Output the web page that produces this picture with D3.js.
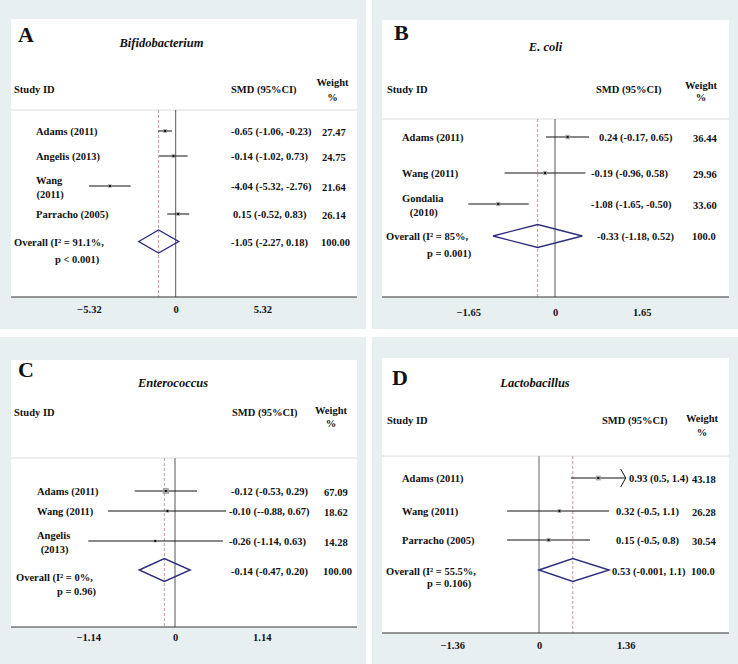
<!DOCTYPE html>
<html><head><meta charset="utf-8">
<script src="https://cdn.jsdelivr.net/npm/d3@7"></script>
<style>
html,body{margin:0;padding:0;background:#fff;}
text{font-family:"Liberation Serif","Times New Roman",serif;font-weight:bold;fill:#111;}
</style></head>
<body>
<svg id="chart" width="738" height="664"></svg>
<script>
// ---------------- DATA ----------------
const panelLetters = ["A", "B", "C", "D"];
const panelTitles = ["Bifidobacterium", "E. coli", "Enterococcus", "Lactobacillus"];
const tickMax = [5.32, 1.65, 1.14, 1.36];

const studiesA = [["Adams (2011)"], ["Angelis (2013)"], ["Wang", "(2011)"], ["Parracho (2005)"]];
const smdA = [-0.65, -0.14, -4.04, 0.15];
const lowA = [-1.06, -1.02, -5.32, -0.52];
const highA = [-0.23, 0.73, -2.76, 0.83];
const weightA = ["27.47", "24.75", "21.64", "26.14"];
const ciTextA = ["-0.65 (-1.06, -0.23)", "-0.14 (-1.02, 0.73)", "-4.04 (-5.32, -2.76)", "0.15 (-0.52, 0.83)"];

const studiesB = [["Adams (2011)"], ["Wang (2011)"], ["Gondalia", "(2010)"]];
const smdB = [0.24, -0.19, -1.08];
const lowB = [-0.17, -0.96, -1.65];
const highB = [0.65, 0.58, -0.50];
const weightB = ["36.44", "29.96", "33.60"];
const ciTextB = ["0.24 (-0.17, 0.65)", "-0.19 (-0.96, 0.58)", "-1.08 (-1.65, -0.50)"];

const studiesC = [["Adams (2011)"], ["Wang (2011)"], ["Angelis", "(2013)"]];
const smdC = [-0.12, -0.10, -0.26];
const lowC = [-0.53, -0.88, -1.14];
const highC = [0.29, 0.67, 0.63];
const weightC = ["67.09", "18.62", "14.28"];
const ciTextC = ["-0.12 (-0.53, 0.29)", "-0.10 (--0.88, 0.67)", "-0.26 (-1.14, 0.63)"];

const studiesD = [["Adams (2011)"], ["Wang (2011)"], ["Parracho (2005)"]];
const smdD = [0.93, 0.32, 0.15];
const lowD = [0.5, -0.5, -0.5];
const highD = [1.4, 1.1, 0.8];
const weightD = ["43.18", "26.28", "30.54"];
const ciTextD = ["0.93 (0.5, 1.4)", "0.32 (-0.5, 1.1)", "0.15 (-0.5, 0.8)"];

const overallSmd = [-1.05, -0.33, -0.14, 0.53];
const overallLow = [-2.27, -1.18, -0.47, -0.001];
const overallHigh = [0.18, 0.52, 0.20, 1.1];
const overallText = ["-1.05 (-2.27, 0.18)", "-0.33 (-1.18, 0.52)", "-0.14 (-0.47, 0.20)", "0.53 (-0.001, 1.1)"];
const overallWeight = ["100.00", "100.0", "100.00", "100.0"];
const overallLabel1 = ["Overall (I\u00B2 = 91.1%,", "Overall (I\u00B2 = 85%,", "Overall (I\u00B2 = 0%,", "Overall (I\u00B2 = 55.5%,"];
const overallLabel2 = ["p < 0.001)", "p = 0.001)", "p = 0.96)", "p = 0.106)"];

const panelData = [
  {studies: studiesA, smd: smdA, low: lowA, high: highA, weight: weightA, ci: ciTextA},
  {studies: studiesB, smd: smdB, low: lowB, high: highB, weight: weightB, ci: ciTextB},
  {studies: studiesC, smd: smdC, low: lowC, high: highC, weight: weightC, ci: ciTextC},
  {studies: studiesD, smd: smdD, low: lowD, high: highD, weight: weightD, ci: ciTextD}
];

// ---------------- LAYOUT ----------------
const layout = [
  {tile:[0,0,366,329], box:[11,19,357,297], sep:110, zero:175.7, letter:[18,42], title:[161.5,47],
   hdr:{study:[14,93], smd:[231,93], wt:[332.5,86,101]}, rows:[131,156,186,214], ovY:241.5, ovText:[246,263],
   nameX:36, ovX:14, ciX:[231,231,231,233], ovCiX:231, ovCiY:246, wtX:322, tickY:313,
   zeroColor:"#555", zeroW:1},
  {tile:[372,0,738,329], box:[382,20,729,297], sep:119, zero:555, letter:[394,40], title:[545.5,51],
   hdr:{study:[387,93], smd:[596,93], wt:[701,89,101]}, rows:[137,173,204], ovY:236, ovText:[240,257],
   nameX:402, ovX:386, ciX:[599,591,591], ovCiX:597, ovCiY:240, wtX:693, tickY:316,
   zeroColor:"#555", zeroW:1},
  {tile:[0,337,366,664], box:[11,360,357,627], sep:458, zero:175, letter:[18,377], title:[173,387],
   hdr:{study:[14,416], smd:[232,416], wt:[331,414,427]}, rows:[491,511,541], ovY:570, ovText:[581,595],
   nameX:37, ovX:16, ciX:[231,229,229], ovCiX:231, ovCiY:575, wtX:324, tickY:641,
   zeroColor:"#aaa", zeroW:2},
  {tile:[372,337,738,664], box:[382,358,729,633], sep:456, zero:539, letter:[392,385], title:[535,387],
   hdr:{study:[387,424], smd:[602,424], wt:[702,422,436]}, rows:[478,511,540], ovY:570, ovText:[575,587],
   nameX:402, ovX:386, ciX:[629,616,616], ovCiX:612, ovCiY:575, wtX:692, tickY:649,
   zeroColor:"#999", zeroW:1.5}
];

// ---------------- DRAW ----------------
const svg = d3.select("#chart");
svg.append("rect").attr("width",738).attr("height",664).attr("fill","#ffffff");

panelLetters.forEach((letter, p) => {
  const L = layout[p], D = panelData[p];
  const g = svg.append("g");
  const [tx0,ty0,tx1,ty1] = L.tile;
  g.append("rect").attr("x",tx0).attr("y",ty0).attr("width",tx1-tx0).attr("height",ty1-ty0).attr("fill","#e8eff1");
  const [bx0,by0,bx1,by1] = L.box;
  g.append("rect").attr("x",bx0).attr("y",by0).attr("width",bx1-bx0).attr("height",by1-by0).attr("fill","#ffffff");

  const T = tickMax[p];
  const x = d3.scaleLinear().domain([-T, T]).range([L.zero - 86.7, L.zero + 86.7]);

  // header
  g.append("text").attr("x",L.letter[0]).attr("y",L.letter[1]).attr("font-size",22).text(letter);
  g.append("text").attr("x",L.title[0]).attr("y",L.title[1]).attr("text-anchor","middle")
    .attr("font-size",12.5).attr("font-style","italic").text(panelTitles[p]);
  g.append("text").attr("x",L.hdr.study[0]).attr("y",L.hdr.study[1]).attr("font-size",10.5).text("Study ID");
  g.append("text").attr("x",L.hdr.smd[0]).attr("y",L.hdr.smd[1]).attr("font-size",10.5).text("SMD (95%CI)");
  g.append("text").attr("x",L.hdr.wt[0]).attr("y",L.hdr.wt[1]).attr("text-anchor","middle").attr("font-size",10.5).text("Weight");
  g.append("text").attr("x",L.hdr.wt[0]).attr("y",L.hdr.wt[2]).attr("text-anchor","middle").attr("font-size",10.5).text("%");

  // separator
  g.append("line").attr("x1",bx0).attr("x2",bx1).attr("y1",L.sep).attr("y2",L.sep)
    .attr("stroke","#dcdcdc").attr("stroke-width",1);

  // zero line and overall dashed line
  g.append("line").attr("x1",x(0)).attr("x2",x(0)).attr("y1",L.sep).attr("y2",by1)
    .attr("stroke",L.zeroColor).attr("stroke-width",L.zeroW);
  g.append("line").attr("x1",x(overallSmd[p])).attr("x2",x(overallSmd[p])).attr("y1",L.sep).attr("y2",by1)
    .attr("stroke","#c27f7f").attr("stroke-width",0.8).attr("stroke-dasharray","3,2");

  // axis line
  g.append("line").attr("x1",bx0).attr("x2",bx1).attr("y1",by1).attr("y2",by1)
    .attr("stroke","#333").attr("stroke-width",1);
  const axis = d3.axisBottom(x).tickValues([-T, 0, T]).tickSize(0)
    .tickFormat(v => v === 0 ? "0" : d3.format(".2f")(v));
  const ag = g.append("g").attr("transform",`translate(0,${L.tickY - 10})`).call(axis);
  ag.select(".domain").remove();
  ag.selectAll("text").attr("font-size",10.5).attr("fill","#111")
    .style("font-family","'Liberation Serif',serif").style("font-weight","bold");

  const xMax = x.range()[1];
  // studies
  D.studies.forEach((lines, i) => {
    const y = L.rows[i];
    const hi = Math.min(D.high[i], T);
    g.append("line").attr("x1",x(D.low[i])).attr("x2",x(hi)).attr("y1",y).attr("y2",y)
      .attr("stroke","#111").attr("stroke-width",1);
    if (D.high[i] > T) {
      g.append("path").attr("d",`M${xMax-5},${y-9}L${xMax},${y}L${xMax-5},${y+9}`)
        .attr("fill","none").attr("stroke","#111").attr("stroke-width",1);
    }
    const s = 0.75 * Math.sqrt(+D.weight[i]);
    g.append("rect").attr("x",x(D.smd[i]) - s/2).attr("y",y - s/2).attr("width",s).attr("height",s)
      .attr("fill","#9a9a9a").attr("opacity",0.8);
    g.append("rect").attr("x",x(D.smd[i]) - 1).attr("y",y - 1).attr("width",2).attr("height",2).attr("fill","#111");

    if (lines.length === 1) {
      g.append("text").attr("x",L.nameX).attr("y",y + 4).attr("font-size",10.5).text(lines[0]);
    } else {
      const t1 = g.append("text").attr("x",L.nameX).attr("y",y - 2).attr("font-size",10.5).text(lines[0]);
      const w = t1.node().getComputedTextLength();
      g.append("text").attr("x",L.nameX + w/2 + 1).attr("y",y + 12).attr("text-anchor","middle")
        .attr("font-size",10.5).text(lines[1]);
    }
    g.append("text").attr("x",L.ciX[i]).attr("y",y + 4).attr("font-size",10.5).text(D.ci[i]);
    g.append("text").attr("x",L.wtX).attr("y",y + 5).attr("font-size",10.5).text(D.weight[i]);
  });

  // overall diamond
  const cy = L.ovY, h = 11.5;
  g.append("path")
    .attr("d",`M${x(overallLow[p])},${cy}L${x(overallSmd[p])},${cy-h}L${x(overallHigh[p])},${cy}L${x(overallSmd[p])},${cy+h}Z`)
    .attr("fill","none").attr("stroke","#2e2e7e").attr("stroke-width",1.4);
  g.append("text").attr("x",L.ovX).attr("y",L.ovText[0]).attr("font-size",10.5).text(overallLabel1[p]);
  g.append("text").attr("x",L.ovX + 41).attr("y",L.ovText[1]).attr("font-size",10.5).text(overallLabel2[p]);
  g.append("text").attr("x",L.ovCiX).attr("y",L.ovCiY).attr("font-size",10.5).text(overallText[p]);
  g.append("text").attr("x",L.wtX - 1).attr("y",L.ovCiY).attr("font-size",10.5).text(overallWeight[p]);
});
</script>
</body></html>
